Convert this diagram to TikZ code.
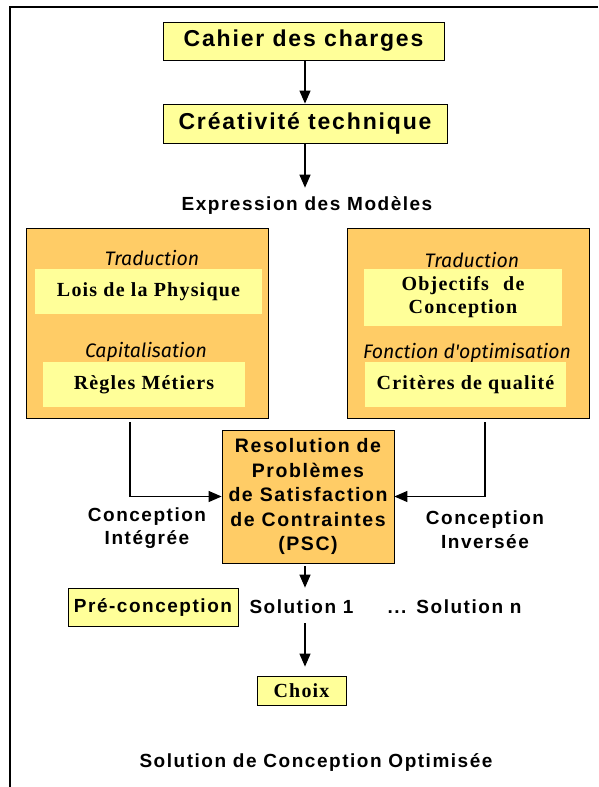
\documentclass[tikz,border=0pt]{standalone}
\usepackage{fontspec}
\setmainfont{Liberation Serif}[LetterSpace=6]
\setsansfont{Liberation Sans}[LetterSpace=8]
\newfontfamily\handfont{Fira Sans}
\usetikzlibrary{arrows.meta}

\definecolor{paleyellow}{RGB}{255,255,153}
\definecolor{orangebox}{RGB}{255,204,102}

\tikzset{every picture/.style={line width=0.75pt}}
\tikzset{
  yellowbox/.style={draw=black, line width=0.8pt, fill=paleyellow, inner sep=0pt, font=\sffamily\bfseries\fontsize{23}{27}\selectfont},
  modelbox/.style={draw=black, line width=0.8pt, fill=orangebox, inner sep=0pt},
  rulebox/.style={fill=paleyellow, inner sep=0pt, align=center, font=\bfseries\fontsize{20}{23}\selectfont},
  hand/.style={inner sep=0pt, font=\handfont\itshape\fontsize{19.5}{22}\selectfont},
  blacktext/.style={inner sep=0pt, align=center, font=\sffamily\bfseries\fontsize{19}{23.5}\selectfont},
  arr/.style={-{Triangle[length=13pt,width=11pt]}, line width=1.2pt},
}

\begin{document}
\begin{tikzpicture}[x=1pt,y=1pt,yscale=-1,xscale=1]
\useasboundingbox (0,0) rectangle (598,787);

%Frame
\draw [line width=2pt] (598,6.5) -- (9.5,6.5) -- (9.5,787) ;

%Shape: Rectangle [cahier]
\node [yellowbox, minimum width=281pt, minimum height=38pt] (cahier) at (303.5,41) {Cahier des charges};
%Shape: Rectangle [creat]
\node [yellowbox, minimum width=284pt, minimum height=39pt] (creat) at (305,123.5) {Créativité technique};
% Text Node
\node [blacktext] (expr) at (307,206) {Expression des Modèles};

%Shape: Rectangle [left model box]
\node [modelbox, minimum width=242pt, minimum height=190pt] (modL) at (147,323) {};
%Shape: Rectangle [right model box]
\node [modelbox, minimum width=242pt, minimum height=190pt] (modR) at (468,323) {};

% Text Node
\node [hand] (tradL) at (152,258) {Traduction};
\node [rulebox, minimum width=227pt, minimum height=45pt] (physL) at (148.5,291.5) {Lois de la Physique};
\node [hand] (capL) at (146,352) {Capitalisation};
\node [rulebox, minimum width=202pt, minimum height=45pt] (metL) at (144,384.5) {Règles Métiers};

% Text Node
\node [hand] (tradR) at (472,260) {Traduction};
\node [rulebox, minimum width=198pt, minimum height=57pt] (objR) at (463,297.5) {Objectifs\hspace{8pt} de\\Conception};
\node [hand] (fonR) at (467,353) {Fonction d'optimisation};
\node [rulebox, minimum width=201pt, minimum height=45pt] (critR) at (465.5,384.5) {Critères de qualité};

%Shape: Rectangle [PSC]
\node [modelbox, blacktext, font=\sffamily\bfseries\fontsize{19.5}{24.5}\selectfont, minimum width=172pt, minimum height=133pt] (psc) at (308,496.5) {Resolution de\\Problèmes\\de Satisfaction\\de Contraintes\\(PSC)};

% Text Node
\node [blacktext] (ciL) at (147,528) {Conception\\Intégrée};
\node [blacktext] (ciR) at (485,529.5) {Conception\\Inversée};

%Shape: Rectangle [pre]
\node [yellowbox, font=\sffamily\bfseries\fontsize{19}{23}\selectfont, minimum width=170pt, minimum height=38pt] (pre) at (153,607) {Pré-conception};
% Text Node
\node [blacktext] (sol1) at (301.5,607) {Solution 1};
\node [blacktext] (dots) at (397,607) {\vphantom{Sl}...};
\node [blacktext] (soln) at (469,607) {Solution n};

%Shape: Rectangle [choix]
\node [yellowbox, font=\bfseries\fontsize{20}{23}\selectfont, minimum width=89pt, minimum height=29pt] (choix) at (301.5,690.5) {Choix};
% Text Node
\node [blacktext] (optim) at (316,762) {Solution de Conception Optimisée};

%Straight Lines
\draw [arr] (creat.north |- cahier.south) -- (creat.north) ;
\draw [arr, shorten >=9pt] (creat.south) -- (creat.south |- expr.north) ;
\draw [arr, shorten <=4pt] ([xshift=-17pt]modL.south) |- (psc.west) ;
\draw [arr, shorten <=4pt] ([xshift=17pt]modR.south) |- (psc.east) ;
\draw [arr, shorten <=3pt, shorten >=12pt] (psc.south -| creat.south) -- (sol1.north -| creat.south) ;
\draw [arr, shorten <=9pt, shorten >=9pt] (sol1.south -| creat.south) -- (choix.north -| creat.south) ;

\end{tikzpicture}
\end{document}
